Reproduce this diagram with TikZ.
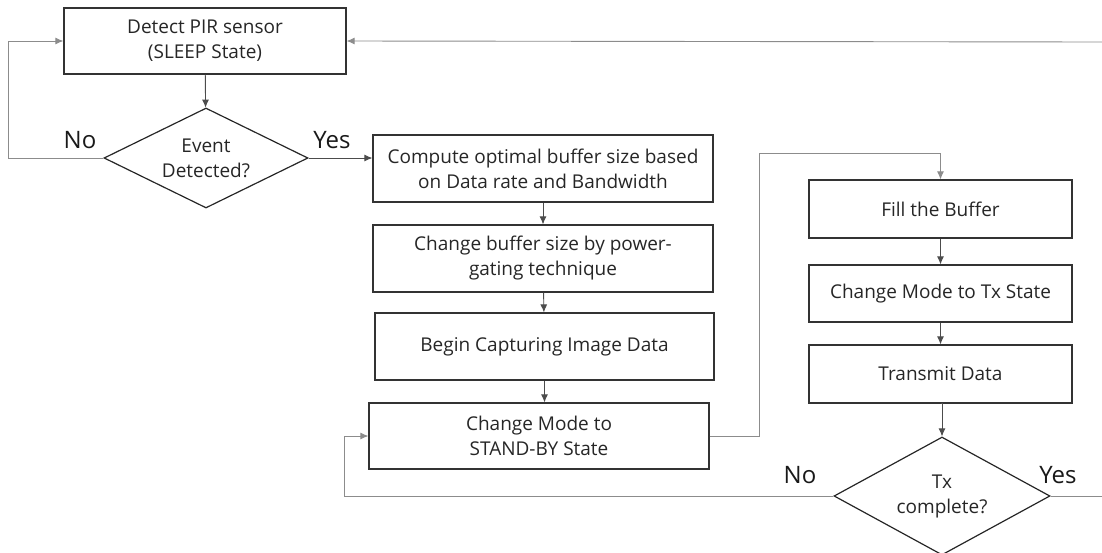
\documentclass[tikz,border=0pt]{standalone}
\usepackage{fontspec}
\setmainfont{Open Sans}
\usetikzlibrary{shapes.geometric,arrows.meta}

\begin{document}
\begin{tikzpicture}[x=1pt,y=-1pt,
    box/.style={draw=black!80,line width=1.2pt,inner sep=0pt,align=center,text=black!85,
      font=\fontsize{19}{25}\selectfont},
    decision/.style={diamond,draw=black!85,line width=1.2pt,inner sep=0pt},
    dtext/.style={align=center,text=black!85,font=\fontsize{19}{25}\selectfont},
    answer/.style={text=black!90,font=\fontsize{24}{26}\selectfont},
    flow/.style={-{Latex[length=8pt,width=7pt]},draw=black!70,line width=0.9pt},
    loop/.style={flow,draw=black!45}]
    \useasboundingbox (0,0) rectangle (1102,552);
    \clip (0,0) rectangle (1102,552);

    % left column
    \node[box,minimum width=282pt,minimum height=66pt] (sleep) at (205,41) {Detect PIR sensor\\(SLEEP State)};
    \node[decision,minimum width=204pt,minimum height=100pt,
      label={[dtext]center:Event\\Detected?}] (event) at (206,158) {};
    \node[answer] (no1) at (80,140) {No};
    \node[answer] (yes1) at (332,140) {Yes};

    % middle column
    \node[box,minimum width=340pt,minimum height=67pt] (compute) at (543,168.5) {Compute optimal buffer size based\\on Data rate and Bandwidth};
    \node[box,minimum width=340pt,minimum height=67pt] (gating) at (543,258.5) {Change buffer size by power-\\gating technique};
    \node[box,minimum width=339pt,minimum height=67pt] (capture) at (544.5,346.5) {Begin Capturing Image Data};
    \node[box,minimum width=340pt,minimum height=66pt] (standby) at (539,436) {Change Mode to\\STAND-BY State};

    % right column
    \node[box,minimum width=263pt,minimum height=58pt] (fill) at (940.5,209) {Fill the Buffer};
    \node[box,minimum width=263pt,minimum height=57pt] (txmode) at (940.5,293.5) {Change Mode to Tx State};
    \node[box,minimum width=263pt,minimum height=58pt] (transmit) at (940.5,374) {Transmit Data};
    \node[decision,minimum width=216pt,minimum height=118pt,
      label={[dtext]center:Tx\\complete?}] (txdone) at (942,496) {};
    \node[answer] (no2) at (800,475) {No};
    \node[answer] (yes2) at (1058,475) {Yes};

    % bends and free ends
    \coordinate (loopL) at (8,158);
    \coordinate (topR) at (1102,42);
    \coordinate (bend) at (759,153);
    \coordinate (loopB) at (344,496);
    \coordinate (exitR) at (1102,496);

    \draw[flow] (sleep) -- (event);
    \draw[loop] (event.west) -- (loopL) |- (sleep.west);
    \draw[loop] (topR) -- (sleep.east);
    \draw[flow] (event.east) -- (event.east -| compute.west);
    \draw[flow] (compute) -- (gating);
    \draw[flow] (gating) -- (capture);
    \draw[flow] (capture.south) -- (capture.south |- standby.north);
    \draw[loop] (standby.east) -| (bend) -| (fill.north);
    \draw[flow] (fill) -- (txmode);
    \draw[flow] (txmode) -- (transmit);
    \draw[flow] (transmit.south) -- (transmit.south -| txdone.north) -- (txdone.north);
    \draw[loop] (txdone.west) -- (loopB) |- (standby.west);
    \draw[loop,-] (txdone.east) -- (exitR);
  \end{tikzpicture}
\end{document}
